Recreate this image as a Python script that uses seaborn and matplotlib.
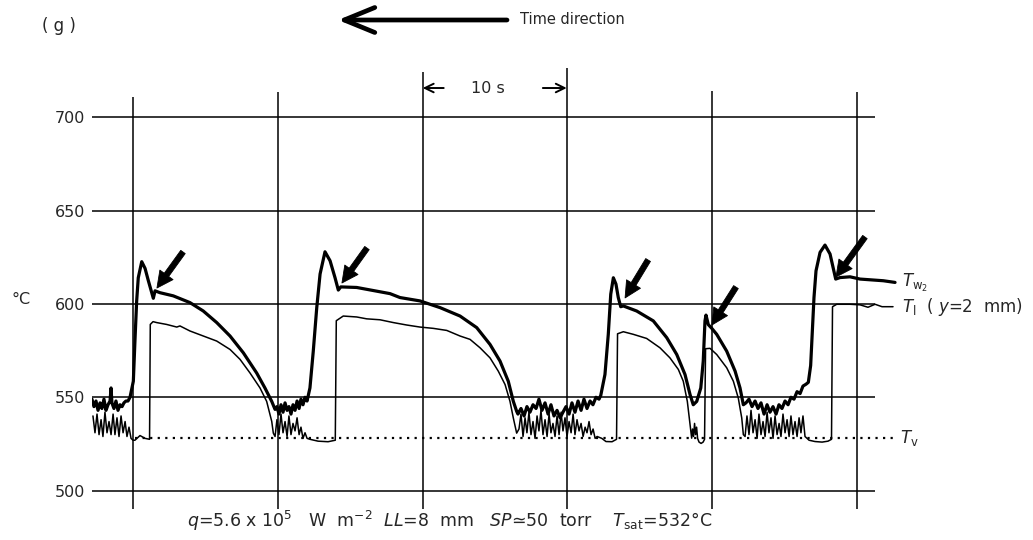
import matplotlib
matplotlib.use("Agg")
import matplotlib.pyplot as plt
import seaborn as sns

# ---------------------------------------------------------------
# Recorder traces: time in seconds, temperature in deg C
# ---------------------------------------------------------------

# wall temperature T_w2 (thick trace)
tw2_time = [
    -2.85, -2.71, -2.57, -2.43, -2.29, -2.16, -2.02, -1.88, -1.74, -1.60, -1.53,
    -1.47, -1.33, -1.19, -1.05, -0.91, -0.77, -0.64, -0.50, -0.36, -0.22,
    0.01, 0.12, 0.24, 0.35, 0.59, 0.82, 1.04, 1.39, 1.51, 1.85, 2.77, 3.92, 4.84,
    5.77, 6.69, 7.61, 8.53, 9.10, 9.57, 9.80,
    9.93, 10.07, 10.21, 10.35, 10.49, 10.63, 10.76, 10.90, 11.04, 11.18, 11.32,
    11.46, 11.59, 11.73, 11.87, 12.01,
    12.21, 12.44, 12.68, 12.91, 13.25, 13.60, 13.94, 14.17, 14.34, 15.44, 17.74,
    18.43, 19.81, 21.20, 22.58, 23.73, 24.65, 25.34, 25.91, 26.26, 26.49,
    26.58, 26.79, 27.00, 27.20, 27.41, 27.62, 27.83, 28.03, 28.24, 28.45, 28.66,
    28.86, 29.07, 29.28, 29.49, 29.69, 29.90, 30.11, 30.31, 30.52, 30.73, 30.94,
    31.14, 31.35, 31.56, 31.76, 31.97, 32.18,
    32.30, 32.59, 32.82, 32.99, 33.17, 33.35, 33.51, 33.68, 33.86, 34.78, 35.93,
    36.86, 37.55, 38.12, 38.47, 38.69, 38.93, 39.21, 39.38, 39.50, 39.57, 39.73,
    39.97, 40.31, 41.00, 41.58, 41.92, 42.15,
    42.33, 42.54, 42.75, 42.96, 43.16, 43.37, 43.58, 43.79, 43.99, 44.20, 44.41,
    44.61, 44.82, 45.03, 45.24, 45.44, 45.65, 45.86, 46.07, 46.27, 46.48,
    46.64, 46.80, 46.94, 47.03, 47.17, 47.45, 47.79, 48.14, 48.37, 48.53, 48.83,
    49.52, 50.21, 51.82, 52.63,
]
tw2_temp = [
    549, 545, 548, 543, 547, 544, 549, 543, 546, 548, 555,
    547, 544, 548, 543, 546, 545, 547, 548, 548, 550,
    558.6, 580, 601.6, 614, 622.6, 619, 612.6, 603, 607, 606, 604.3, 600.7, 596.2,
    590, 582.8, 573.8, 563, 555, 547.8, 543.5,
    545, 541, 546, 542, 547, 543, 545, 541, 546, 543, 548,
    544, 549, 546, 550, 548,
    555, 574.7, 598, 616, 627.9, 623.1, 614.1, 607.4, 609.1, 608.8, 605.5,
    603.4, 601.6, 598, 593.5, 587.3, 578.3, 569.4, 558.6, 547.8, 542.5,
    541, 544, 540, 545, 542, 546, 544, 549, 543, 547, 541,
    546, 540, 543, 539, 542, 545, 541, 547, 542, 548, 543,
    549, 544, 548, 546, 550, 549,
    551, 562.2, 583.7, 605.2, 614, 610.6, 603.4, 598.5, 598.9, 596.2, 590.9,
    581.9, 572.9, 562.2, 551.4, 546, 547.8, 555, 569.4, 590.9, 594, 588.9,
    586.9, 583.7, 574.7, 564, 555, 546,
    547, 549, 545, 548, 544, 547, 541, 546, 542, 545, 541,
    546, 544, 548, 546, 550, 549, 553, 552, 556, 557,
    558, 567, 589, 603.4, 617.7, 627.6, 631.5, 626.7, 618.7, 613.3, 614.1,
    614.5, 613.3, 612.4, 611.5,
]

# liquid temperature T_l at y = 2 mm (thin trace)
tl_time = [
    -2.78, -2.64, -2.50, -2.36, -2.22, -2.09, -1.95, -1.81, -1.67, -1.53, -1.39,
    -1.26, -1.12, -0.98, -0.84, -0.70, -0.56, -0.43, -0.29, -0.15, -0.01,
    0.12, 0.47, 0.82, 1.13, 1.18, 1.37, 1.62, 2.31, 3.01, 3.23, 3.92, 4.84, 5.77,
    6.69, 7.38, 8.07, 8.76, 9.22, 9.57, 9.68,
    9.80, 9.93, 10.07, 10.21, 10.35, 10.49, 10.63, 10.76, 10.90, 11.04, 11.18,
    11.32, 11.46, 11.59, 11.73, 11.87, 12.01,
    12.21, 12.77, 13.46, 13.96, 14.03, 14.51, 15.44, 16.13, 17.05, 17.97, 18.89,
    19.81, 20.73, 21.66, 22.58, 23.27, 23.96, 24.65, 25.22, 25.69, 26.03, 26.26,
    26.49,
    26.65, 26.79, 26.93, 27.07, 27.20, 27.34, 27.48, 27.62, 27.76, 27.90, 28.03,
    28.17, 28.31, 28.45, 28.59, 28.73, 28.86, 29.00, 29.14, 29.28, 29.42, 29.56,
    29.69, 29.83, 29.97, 30.11, 30.25, 30.39, 30.52, 30.66, 30.80, 30.94, 31.08,
    31.22, 31.35, 31.49, 31.63, 31.77, 31.91, 32.05,
    32.37, 32.66, 33.08, 33.39, 33.46, 33.86, 34.55, 35.47, 36.39, 37.08, 37.66,
    38.00, 38.28, 38.47, 38.58,
    38.64, 38.71, 38.78, 38.85, 38.92, 38.99, 39.09, 39.23, 39.37, 39.47, 39.54,
    39.85, 40.31, 41.00, 41.46, 41.80, 42.04, 42.15,
    42.27, 42.40, 42.54, 42.68, 42.82, 42.96, 43.10, 43.23, 43.37, 43.51, 43.65,
    43.79, 43.92, 44.06, 44.20, 44.34, 44.48, 44.62, 44.75, 44.89, 45.03, 45.17,
    45.31, 45.44, 45.58, 45.72, 45.86, 46.00, 46.13, 46.27, 46.41, 46.55,
    46.69, 47.10, 47.59, 48.00, 48.24, 48.31, 48.60, 49.52, 50.21, 50.76, 51.25,
    51.73, 52.49,
]
tl_temp = [
    540, 531, 541, 530, 538, 529, 542, 531, 537, 530, 541,
    530, 539, 529, 540, 531, 537, 529, 534, 528, 527,
    527, 529.5, 528, 527.5, 589, 590.5, 590, 589, 587.6, 588.2, 585.5, 582.8, 580.1,
    575.6, 570.3, 563, 555, 547.8, 537.1, 530.8,
    529, 538, 530, 541, 531, 537, 529, 540, 530, 536, 532,
    539, 530, 534, 528, 531, 528,
    527.5, 526.5, 526.2, 527, 591, 593.5, 593, 592, 591.5, 590, 588.7,
    587.6, 586.9, 585.8, 582.8, 581, 576.5, 571.1, 564, 556.8, 547.8, 538.9,
    530.8,
    533, 541, 529, 539, 531, 542, 530, 537, 528, 540, 532,
    543, 530, 538, 529, 541, 531, 536, 529, 540, 530, 542,
    532, 539, 529, 537, 531, 541, 530, 538, 532, 536, 529,
    534, 531, 537, 530, 533, 528, 529,
    528, 526.3, 526.2, 527.5, 584, 585.1, 583.7, 581.5, 576.5, 571.1, 564.9,
    558.6, 547.8, 535.3, 528.1,
    533, 529, 536, 530, 534, 528, 526, 525.3, 526, 527.5, 576,
    576.2, 572.9, 565.8, 558.6, 549.6, 538.9, 530,
    529, 540, 530, 543, 531, 538, 528, 541, 530, 537, 529,
    542, 531, 539, 528, 540, 530, 536, 529, 541, 531, 538,
    529, 540, 530, 537, 529, 539, 531, 540, 529, 528,
    527, 526.3, 526, 526.5, 527.5, 598.5, 599.8, 599.8, 599.5, 598.2, 599.8,
    598.5, 598.5,
]

# vapour temperature T_v (dotted)
tv_time = [0.1, 52.5]
tv_temp = [528, 528]

temp_ticks = [500, 550, 600, 650, 700]
mark_times = [0, 10, 20, 30, 40, 50]

# ---------------------------------------------------------------
sns.set_style("white")
plt.rcParams["font.family"] = ["DejaVu Sans"]
plt.rcParams["mathtext.fontset"] = "dejavusans"

W, H = 1033, 540
fig = plt.figure(figsize=(W / 100, H / 100), dpi=100)
ax = fig.add_axes([92 / W, 30 / H, (W - 92) / W, 450 / H])
ax.set_xlim(-2.846, 62.16)
ax.set_ylim(489.64, 730.60)

# chart-paper grid: temperature lines and 10 s time marks
ax.hlines(temp_ticks, -2.85, 51.25, color="black", lw=1.1, zorder=1)
mark_tops = [710.8, 713.5, 724.2, 726.3, 714.0, 713.5]
for t, top in zip(mark_times, mark_tops):
    ax.vlines(t, 490.3, top, color="black", lw=1.1, zorder=1)

# traces
sns.lineplot(x=tv_time, y=tv_temp, ax=ax, color="black", lw=1.6,
             linestyle=(0, (1, 2.4)), estimator=None, sort=False, zorder=2)
sns.lineplot(x=tl_time, y=tl_temp, ax=ax, color="black", lw=1.1,
             estimator=None, sort=False, zorder=3)
sns.lineplot(x=tw2_time, y=tw2_temp, ax=ax, color="black", lw=2.3,
             estimator=None, sort=False, zorder=4)

# arrows marking the wall-temperature dips
dip_arrows = [((3.44, 627.8), (1.64, 608.5)),
              ((16.15, 629.9), (14.42, 611.2)),
              ((35.57, 623.5), (33.98, 603.2)),
              ((41.64, 609.0), (39.98, 588.7)),
              ((50.55, 635.8), (48.55, 614.4))]
for tail, head in dip_arrows:
    ax.annotate("", xy=head, xytext=tail,
                arrowprops=dict(arrowstyle="simple,head_length=0.65,head_width=0.65,tail_width=0.22",
                                fc="black", ec="black", lw=0.6,
                                shrinkA=0, shrinkB=0, mutation_scale=18))

# 10 s interval marker
ax.text(24.48, 715.3, "10 s", ha="center", va="center", fontsize=11.5)
small_arrow = dict(arrowstyle="->,head_length=0.45,head_width=0.22", lw=1.4,
                   color="black", shrinkA=0, shrinkB=0, mutation_scale=14)
ax.annotate("", xy=(20.0, 715.6), xytext=(21.45, 715.6), arrowprops=small_arrow)
ax.annotate("", xy=(29.95, 715.6), xytext=(28.3, 715.6), arrowprops=small_arrow)

# trace labels
ax.text(53.1, 609.2, r"$T_{\mathrm{w}_2}$", fontsize=12, ha="left", va="baseline")
ax.text(53.1, 595.8, r"$T_{\mathrm{l}}$  ( $y$=2  mm)", fontsize=12, ha="left",
        va="baseline")
ax.text(52.95, 525.7, r"$T_{\mathrm{v}}$", fontsize=12, ha="left", va="baseline")

# axes styling
sns.despine(ax=ax, left=True, bottom=True)
ax.set_xticks([])
ax.set_yticks(temp_ticks)
ax.set_yticklabels([str(v) for v in temp_ticks])
ax.tick_params(axis="y", length=0, pad=5, labelsize=11.5)
ax.set_xlabel("")
ax.set_ylabel("°C", rotation=0, fontsize=11.5, ha="center", va="center")
ax.yaxis.set_label_coords(-0.0755, 0.4667)

# header: panel tag and time direction
fig.text(59 / W, 1 - 26 / H, "( g )", ha="center", va="center", fontsize=12)
ax.annotate("", xy=(338, H - 20), xycoords="figure pixels",
            xytext=(507, H - 20), textcoords="figure pixels",
            arrowprops=dict(arrowstyle="->,head_length=1.1,head_width=0.45",
                            lw=3.4, color="black", shrinkA=0, shrinkB=0,
                            mutation_scale=20))
fig.text(520 / W, 1 - 20 / H, "Time direction", ha="left", va="center",
         fontsize=10.5)

# test conditions
fig.text(450 / W, 1 - 521 / H,
         r"$q$=5.6 x 10$^5$   W  m$^{-2}$  $LL$=8  mm   $SP$≃50  torr    "
         r"$T_{\mathrm{sat}}$=532°C",
         ha="center", va="center", fontsize=12.5)

fig.savefig("out.png", dpi=100)
